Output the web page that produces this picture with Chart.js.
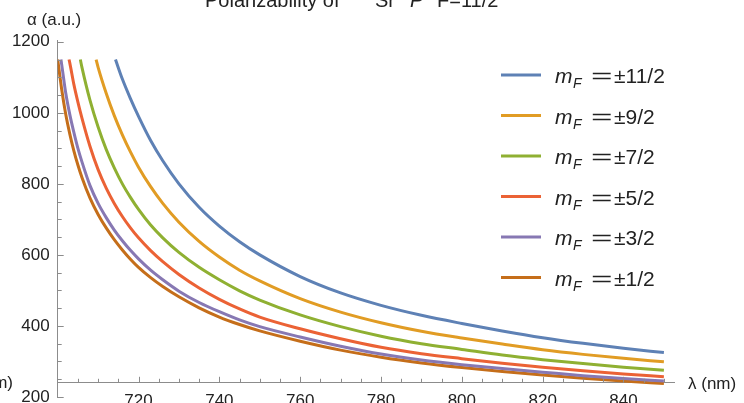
<!DOCTYPE html>
<html>
<head>
<meta charset="utf-8">
<script src="https://cdn.jsdelivr.net/npm/chart.js@4.4.1/dist/chart.umd.min.js"></script>
<style>
  html, body { margin: 0; padding: 0; background: #fff; }
  canvas { display: block; }
</style>
</head>
<body>
<canvas id="polChart" width="744" height="403"></canvas>
<script>
// wavelength grid (nm) shared by all curves
const wavelength = [700, 701, 702, 703, 704, 705, 706, 708, 710, 712, 714, 716, 718, 720, 723, 726, 730, 735, 740, 745, 750, 760, 770, 780, 790, 800, 810, 820, 830, 840, 850];

// polarizability (a.u.), null where the curve is above the plot top
const mF11 = [null, null, null, null, null, null, null, null, null, null, null, 1095, 1040, 990, 922, 865, 800, 734, 681, 637, 600, 539, 493, 458, 430, 407, 386, 367, 351, 337, 325];
const mF9 = [null, null, null, null, null, null, null, null, 1128, 1055, 992, 938, 890, 847, 792, 745, 692, 638, 594, 557, 527, 477, 439, 409, 385, 366, 349, 333, 320, 309, 299];
const mF7 = [null, null, null, null, null, null, 1128, 1035, 960, 897, 845, 800, 762, 728, 684, 648, 607, 565, 530, 499, 473, 431, 398, 371, 350, 334, 318, 305, 294, 284, 275];
const mF5 = [null, null, null, 1140, 1080, 1030, 985, 905, 840, 788, 745, 708, 676, 648, 612, 581, 545, 507, 475, 448, 425, 392, 364, 340, 322, 308, 295, 284, 274, 265, 257];
const mF3 = [null, 1135, 1055, 995, 945, 900, 862, 795, 745, 705, 670, 640, 613, 589, 557, 530, 498, 466, 440, 417, 398, 369, 343, 321, 304, 291, 280, 270, 260, 252, 245];
const mF1 = [null, 1065, 995, 940, 893, 853, 818, 760, 714, 676, 643, 614, 588, 565, 536, 511, 482, 451, 425, 404, 386, 357, 332, 312, 296, 283, 272, 262, 253, 245, 238];

// where each curve comes in through the top of the plot
const startWavelength = [714.3, 709.5, 705.6, 702.8, 700.8, 700];
const topCut = 1150;

const seriesLabels = ['\u00b111/2', '\u00b19/2', '\u00b17/2', '\u00b15/2', '\u00b13/2', '\u00b11/2'];
const seriesValues = [mF11, mF9, mF7, mF5, mF3, mF1];
const seriesColors = ['#5E81B5', '#E19C24', '#8FB032', '#EB6235', '#8778B3', '#C56E1A'];

const xTickValues = [720, 740, 760, 780, 800, 820, 840];
const yTickValues = [200, 400, 600, 800, 1000, 1200];

const FONT = 'Liberation Sans';
const AXIS_GRAY = '#8c8c8c';

function buildPoints(values, start) {
  const pts = [{x: start, y: topCut}];
  wavelength.forEach((w, i) => {
    if (values[i] !== null && w > start) pts.push({x: w, y: values[i]});
  });
  return pts;
}

const datasets = seriesValues.map((vals, i) => ({
  label: seriesLabels[i],
  data: buildPoints(vals, startWavelength[i]),
  borderColor: seriesColors[i],
  backgroundColor: seriesColors[i],
  borderWidth: 3,
  pointRadius: 0,
  fill: false,
  cubicInterpolationMode: 'monotone'
}));

// inward ticks, legend and stray texts in Mathematica style
const decorations = {
  id: 'decorations',
  afterDraw(chart) {
    const {ctx, scales: {x, y}} = chart;
    const x0 = x.getPixelForValue(700);
    const y0 = y.getPixelForValue(240);
    ctx.save();
    ctx.strokeStyle = AXIS_GRAY;
    ctx.lineWidth = 1;
    ctx.beginPath();
    for (let v = 200; v <= 1200; v += 50) {
      const py = Math.round(y.getPixelForValue(v)) + 0.5;
      const len = v % 200 === 0 ? 6 : 4;
      ctx.moveTo(x0, py);
      ctx.lineTo(x0 + len, py);
    }
    for (let v = 705; v <= 850; v += 5) {
      const px = Math.round(x.getPixelForValue(v)) + 0.5;
      const len = v % 20 === 0 ? 6 : 4;
      ctx.moveTo(px, y0);
      ctx.lineTo(px, y0 - len);
    }
    ctx.stroke();

    // title (cut by the top edge); superscripts sit above the canvas
    ctx.fillStyle = '#222';
    ctx.textBaseline = 'alphabetic';
    ctx.textAlign = 'left';
    ctx.font = '20px "' + FONT + '"';
    ctx.fillText('Polarizability of', 205, 7);
    ctx.fillText('Sr', 375, 7);
    ctx.fillText('F=11/2', 437, 7);
    ctx.font = 'italic 20px "' + FONT + '"';
    ctx.fillText('P', 410, 7);
    ctx.font = '13px "' + FONT + '"';
    ctx.fillText('87', 356, -4);
    ctx.fillText('3', 400, -4);

    // axis labels
    ctx.font = '17px "' + FONT + '"';
    ctx.fillText('\u03b1 (a.u.)', 27, 25);
    ctx.fillText('\u03bb (nm)', 688, 389);
    ctx.textAlign = 'right';
    ctx.fillText('(nm)', 13, 388);

    // legend
    datasets.forEach((ds, i) => {
      const ly = 75 + i * 40.5;
      ctx.strokeStyle = ds.borderColor;
      ctx.lineWidth = 3;
      ctx.beginPath();
      ctx.moveTo(501, ly);
      ctx.lineTo(541, ly);
      ctx.stroke();
      ctx.fillStyle = '#222';
      ctx.textAlign = 'left';
      const base = ly + 8;
      ctx.font = 'italic 21px "' + FONT + '"';
      ctx.fillText('m', 555, base);
      ctx.font = 'italic 14px "' + FONT + '"';
      ctx.fillText('F', 573, base + 5);
      ctx.font = '21px "' + FONT + '"';
      ctx.save();
      ctx.translate(591, base);
      ctx.scale(1.75, 1);
      ctx.fillText('=', 0, 0);
      ctx.restore();
      ctx.fillText(ds.label, 614, base);
    });
    ctx.restore();
  }
};

new Chart(document.getElementById('polChart'), {
  type: 'line',
  data: {datasets: datasets},
  options: {
    responsive: false,
    animation: false,
    devicePixelRatio: 1,
    layout: {padding: {left: 0, top: 40, right: 70, bottom: 6}},
    plugins: {
      legend: {display: false},
      title: {display: false},
      tooltip: {enabled: false}
    },
    scales: {
      x: {
        type: 'linear',
        min: 700,
        max: 852.5,
        position: {y: 240},
        grid: {display: false, drawTicks: false},
        border: {display: true, color: AXIS_GRAY, width: 1},
        afterBuildTicks: s => { s.ticks = xTickValues.map(v => ({value: v})); },
        afterFit: s => { s.height = 0; s.paddingLeft = 0; s.paddingRight = 0; },
        ticks: {
          autoSkip: false,
          maxRotation: 0,
          padding: 8,
          color: '#222',
          font: {family: FONT, size: 17},
          callback: v => String(v)
        }
      },
      y: {
        min: 200,
        max: 1205,
        grid: {display: false, drawTicks: false},
        border: {display: true, color: AXIS_GRAY, width: 1},
        afterBuildTicks: s => { s.ticks = yTickValues.map(v => ({value: v})); },
        afterFit: s => { s.width = 57.7; s.paddingTop = 0; s.paddingBottom = 0; },
        ticks: {
          padding: 8,
          color: '#222',
          font: {family: FONT, size: 17},
          callback: v => String(v)
        }
      }
    }
  },
  plugins: [decorations]
});
</script>
</body>
</html>
